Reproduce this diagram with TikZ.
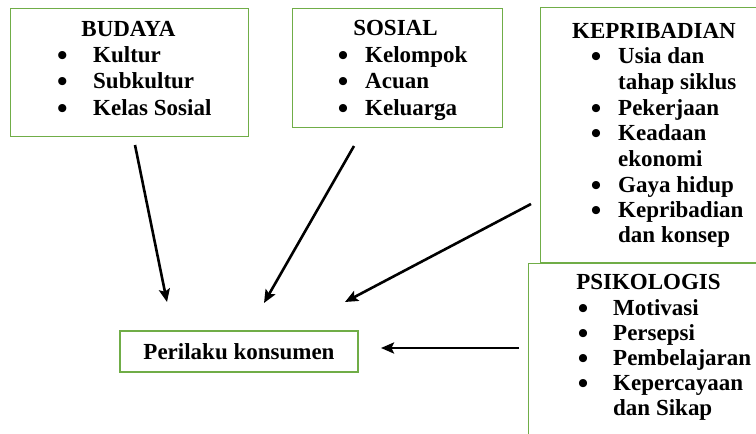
\documentclass[tikz,border=0pt]{standalone}
\usepackage{fontspec}
\setmainfont{Liberation Serif}
\usetikzlibrary{arrows.meta}
\definecolor{boxgreen}{HTML}{70AD47}
\tikzset{
  greenbox/.style={draw=boxgreen, line width=1.4pt, fill=white, rectangle, inner sep=0pt, anchor=north west},
  lbl/.style={inner sep=0pt, font=\fontsize{23}{26}\selectfont\bfseries},
  txt/.style={lbl, anchor=base west},
  ctxt/.style={lbl, anchor=base},
  bul/.style={inner sep=0pt, anchor=base, text height=12pt, text depth=0pt, yshift=-3pt, font=\fontsize{30}{30}\selectfont\bfseries},
  arr/.style={line width=2.6pt, -{Stealth[length=13pt,width=11pt,inset=2.5pt]}}
}
\begin{document}
\begin{tikzpicture}[x=1pt,y=-1pt]
\useasboundingbox (0,0) rectangle (756,434);
\begin{scope}
\clip (0,0) rectangle (756,434);
% boxes
\node[greenbox, minimum width=238pt, minimum height=128pt] (budaya) at (10,8) {};
\node[greenbox, minimum width=210pt, minimum height=119pt] (sosial) at (292,8) {};
\node[greenbox, minimum width=260pt, minimum height=255pt] (kepri) at (540,7) {};
\node[greenbox, minimum width=260pt, minimum height=200pt] (psiko) at (528,263) {};
\node[greenbox, minimum width=238pt, minimum height=41pt, lbl, anchor=center] (perilaku) at (239,351.5) {Perilaku konsumen};

% BUDAYA
\node[ctxt] (tb) at (128.5,36) {BUDAYA};
\node[bul] (bb1) at (62.5,62) {•};
\node[txt] (ib1) at (93,62) {Kultur};
\node[bul] (bb2) at (62.5,88.5) {•};
\node[txt] (ib2) at (93,88.5) {Subkultur};
\node[bul] (bb3) at (62.5,115) {•};
\node[txt] (ib3) at (93,115) {Kelas Sosial};

% SOSIAL
\node[ctxt] (ts) at (395.5,35) {SOSIAL};
\node[bul] (bs1) at (343,62) {•};
\node[txt] (is1) at (365,62) {Kelompok};
\node[bul] (bs2) at (343,88.5) {•};
\node[txt] (is2) at (365,88.5) {Acuan};
\node[bul] (bs3) at (343,115) {•};
\node[txt] (is3) at (365,115) {Keluarga};

% KEPRIBADIAN
\node[ctxt] (tk) at (654,38) {KEPRIBADIAN};
\node[bul] (bk1) at (596,63) {•};
\node[txt] (ik1) at (618,63) {Usia dan};
\node[txt] (ik1b) at (618,89.5) {tahap siklus};
\node[bul] (bk2) at (596,115) {•};
\node[txt] (ik2) at (618,115) {Pekerjaan};
\node[bul] (bk3) at (596,140.5) {•};
\node[txt] (ik3) at (618,140.5) {Keadaan};
\node[txt] (ik3b) at (618,166.5) {ekonomi};
\node[bul] (bk4) at (596,192) {•};
\node[txt] (ik4) at (618,192) {Gaya hidup};
\node[bul] (bk5) at (596,217) {•};
\node[txt] (ik5) at (618,217) {Kepribadian};
\node[txt] (ik5b) at (618,242.5) {dan konsep};

% PSIKOLOGIS
\node[ctxt] (tp) at (648.5,289) {PSIKOLOGIS};
\node[bul] (bp1) at (583,315) {•};
\node[txt] (ip1) at (613,315) {Motivasi};
\node[bul] (bp2) at (583,340) {•};
\node[txt] (ip2) at (613,340) {Persepsi};
\node[bul] (bp3) at (583,365) {•};
\node[txt] (ip3) at (613,365) {Pembelajaran};
\node[bul] (bp4) at (583,390) {•};
\node[txt] (ip4) at (613,390) {Kepercayaan};
\node[txt] (ip4b) at (613,415) {dan Sikap};
\end{scope}

% arrows
\coordinate (a1s) at (135,145);
\coordinate (a1e) at (167,302);
\coordinate (a2s) at (354,146);
\coordinate (a2e) at (264,303);
\coordinate (a3s) at (531,204);
\coordinate (a3e) at (345,302);
\coordinate (a4s) at (519,348);
\coordinate (a4e) at (381,348);
\draw[arr] (a1s) -- (a1e);
\draw[arr] (a2s) -- (a2e);
\draw[arr] (a3s) -- (a3e);
\draw[arr] (a4s) -- (a4e);
\end{tikzpicture}
\end{document}
